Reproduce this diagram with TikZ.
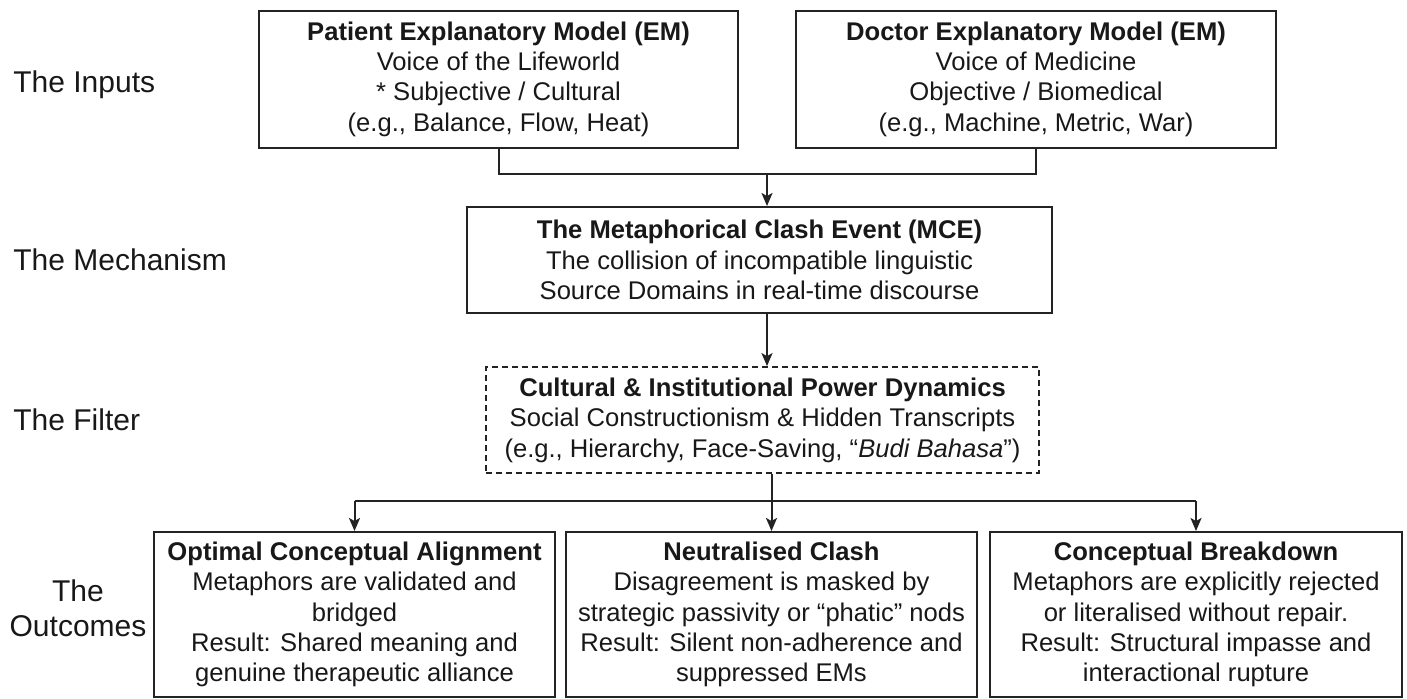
\documentclass[tikz,border=0pt]{standalone}
\usepackage{fontspec}
\setmainfont{Liberation Sans}
\usetikzlibrary{arrows.meta,positioning}
\definecolor{inkgray}{RGB}{24,24,24}
\definecolor{edgegray}{RGB}{35,35,35}

\begin{document}
\begin{tikzpicture}[x=1pt,y=-1pt,
  every node/.style={font=\fontsize{12.8}{15.2}\selectfont,text=inkgray},
  box/.style={draw=edgegray,line width=1pt,align=center,inner sep=0pt},
  filt/.style={box,line width=0.9pt,dash pattern=on 3pt off 2pt},
  link/.style={edgegray,line width=1pt},
  arr/.style={link,-{Stealth[length=6.5pt,width=5.5pt,inset=1.5pt]}},
  lbl/.style={font=\fontsize{15}{17.5}\selectfont,inner sep=0pt}]
\useasboundingbox (0,0) rectangle (703.5,349);
% row labels
\node[lbl,anchor=base west] (lin) at (6.5,46) {The Inputs};
\node[lbl,anchor=base west] (lmech) at (6.5,135) {The Mechanism};
\node[lbl,anchor=base west] (lfilt) at (6.5,215) {The Filter};
\node[lbl,align=center] (lout) at (39,304) {The\\Outcomes};
% inputs
\node[box,minimum width=239.5pt,minimum height=68.5pt] (pem) at (249.25,39.5)
  {\textbf{Patient Explanatory Model (EM)}\\Voice of the Lifeworld\\* Subjective / Cultural\\(e.g., Balance, Flow, Heat)};
\node[box,minimum width=240pt,minimum height=68.5pt] (dem) at (518,39.5)
  {\textbf{Doctor Explanatory Model (EM)}\\Voice of Medicine\\Objective / Biomedical\\(e.g., Machine, Metric, War)};
% mechanism and filter
\node[box,minimum width=292.5pt,minimum height=53pt] (mce) at (379.75,130)
  {\textbf{The Metaphorical Clash Event (MCE)}\\The collision of incompatible linguistic\\Source Domains in real-time discourse};
\node[filt,minimum width=276.5pt,minimum height=53pt] (pow) at (381.25,210)
  {\textbf{Cultural \& Institutional Power Dynamics}\\Social Constructionism \& Hidden Transcripts\\(e.g., Hierarchy, Face-Saving, “\textit{Budi Bahasa}”)};
% outcomes
\node[box,minimum width=200.5pt,minimum height=82.5pt] (oca) at (177.25,307.25)
  {\textbf{Optimal Conceptual Alignment}\\Metaphors are validated and\\bridged\\Result: Shared meaning and\\genuine therapeutic alliance};
\node[box,minimum width=205.5pt,minimum height=82.5pt] (nc) at (385.75,307.25)
  {\textbf{Neutralised Clash}\\Disagreement is masked by\\strategic passivity or “phatic” nods\\Result: Silent non-adherence and\\suppressed EMs};
\node[box,minimum width=206pt,minimum height=82.5pt] (cb) at (598,307.25)
  {\textbf{Conceptual Breakdown}\\Metaphors are explicitly rejected\\or literalised without repair.\\Result: Structural impasse and\\interactional rupture};
% connectors
\coordinate (join) at (383.5,87);
\coordinate (split) at (385.75,250.5);
\draw[link] (pem.south) |- (join) -| (dem.south);
\draw[arr] (join) -- (join |- mce.north);
\draw[arr] (mce.south -| join) -- (pow.north -| join);
\draw[arr] (pow.south -| nc.north) -- (nc.north);
\draw[link] (split -| oca.north) -- (split -| cb.north);
\draw[arr] (split -| oca.north) -- (oca.north);
\draw[arr] (split -| cb.north) -- (cb.north);
\end{tikzpicture}
\end{document}
